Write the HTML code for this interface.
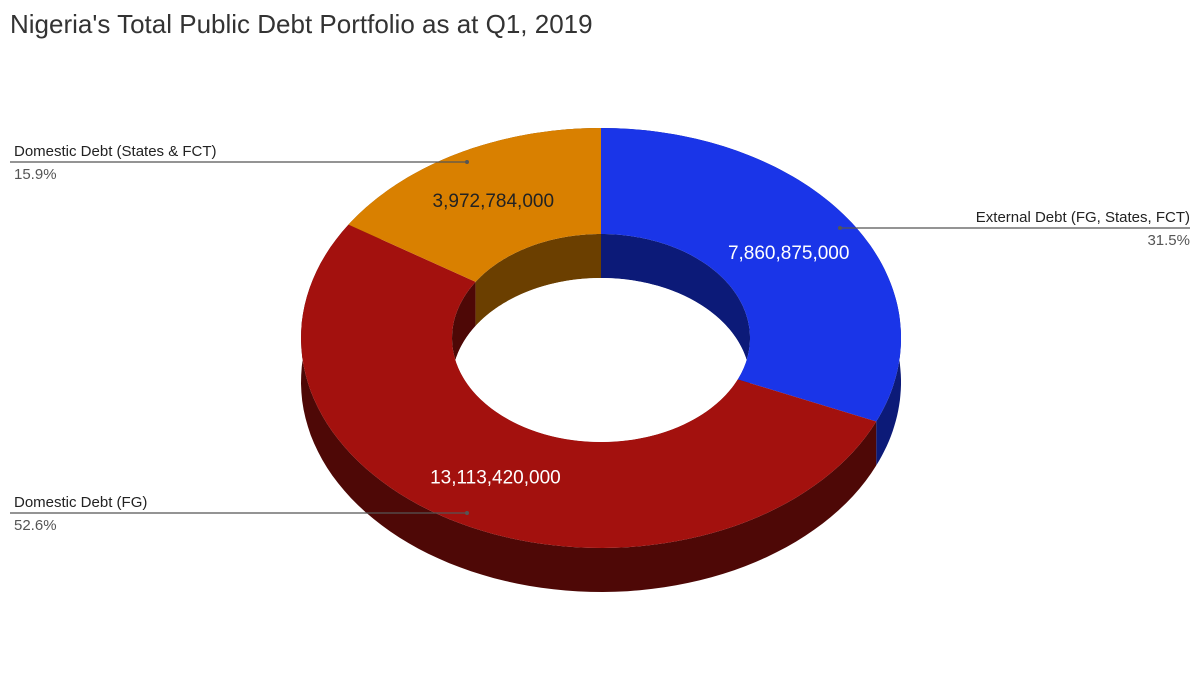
<!DOCTYPE html>
<html><head><meta charset="utf-8"><style>
body{margin:0;background:#fff;}
svg{display:block;font-family:"Liberation Sans",sans-serif;}
</style></head><body>
<svg width="1200" height="675" viewBox="0 0 1200 675">
<rect width="1200" height="675" fill="#fff"/>
<text x="10" y="33" font-size="26" fill="#333">Nigeria's Total Public Debt Portfolio as at Q1, 2019</text>
<g id="chart"></g>
</svg>
<script>
const categories = ["External Debt (FG, States, FCT)", "Domestic Debt (FG)", "Domestic Debt (States & FCT)"];
const values = [7860875000, 13113420000, 3972784000];
const valueLabels = ["7,860,875,000", "13,113,420,000", "3,972,784,000"];

const topColors = ["#1a35e8", "#a3110e", "#d98000"];
const sideColors = ["#0c1a78", "#4e0806", "#6b3f00"];
const cx = 601, cy = 338, rx = 300, ry = 210, irx = 149, iry = 104, depth = 44;
const NS = "http://www.w3.org/2000/svg";
const g = document.getElementById("chart");
const total = values.reduce((a, b) => a + b, 0);
function pt(t, a, b, dy) { return [cx + a * Math.sin(t), cy - b * Math.cos(t) + (dy || 0)]; }
function arc(t0, t1, a, b, dy) {
  const pts = []; const n = 80;
  for (let i = 0; i <= n; i++) { const t = t0 + (t1 - t0) * i / n; pts.push(pt(t, a, b, dy)); }
  return pts;
}
function poly(pts, fill, name) {
  const p = document.createElementNS(NS, "polygon");
  p.setAttribute("points", pts.map(q => q[0].toFixed(1) + "," + q[1].toFixed(1)).join(" "));
  p.setAttribute("fill", fill);
  
  
  g.appendChild(p);
}
const angles = []; let acc = 0;
values.forEach(v => { const t0 = acc / total * 2 * Math.PI; acc += v; angles.push([t0, acc / total * 2 * Math.PI]); });
// outer walls
angles.forEach((a, i) => {
  const top = arc(a[0], a[1], rx, ry, 0), bot = arc(a[0], a[1], rx, ry, depth).reverse();
  poly(top.concat(bot), sideColors[i], "outer-wall-" + i);
});
// inner walls
angles.forEach((a, i) => {
  const top = arc(a[0], a[1], irx, iry, 0), bot = arc(a[0], a[1], irx, iry, depth).reverse();
  poly(top.concat(bot), sideColors[i], "inner-wall-" + i);
});
// top faces
angles.forEach((a, i) => {
  const o = arc(a[0], a[1], rx, ry, 0), inn = arc(a[0], a[1], irx, iry, 0).reverse();
  poly(o.concat(inn), topColors[i], "slice-" + i);
});
// hole bottom (white)
const defs = document.createElementNS(NS, "defs");
const cp = document.createElementNS(NS, "clipPath"); cp.setAttribute("id", "holeclip");
const ce = document.createElementNS(NS, "ellipse");
ce.setAttribute("cx", cx); ce.setAttribute("cy", cy); ce.setAttribute("rx", irx); ce.setAttribute("ry", iry);
cp.appendChild(ce); defs.appendChild(cp); g.appendChild(defs);
const hole = document.createElementNS(NS, "ellipse");
hole.setAttribute("cx", cx); hole.setAttribute("cy", cy + depth); hole.setAttribute("rx", irx); hole.setAttribute("ry", iry);
hole.setAttribute("fill", "#fff"); hole.setAttribute("clip-path", "url(#holeclip)");


g.appendChild(hole);
// value labels
const labelColors = ["#fff", "#fff", "#222"];
angles.forEach((a, i) => {
  const m = (a[0] + a[1]) / 2; const r = 0.7;
  const p = pt(m, rx * r + irx * (1 - r) * 0, 0, 0);
  const rr = (rx + irx) / 2, rrv = (ry + iry) / 2;
  const q = [cx + rr * Math.sin(m), cy - rrv * Math.cos(m)];
  const t = document.createElementNS(NS, "text");
  t.setAttribute("x", q[0].toFixed(1)); t.setAttribute("y", (q[1] + 7).toFixed(1));
  t.setAttribute("text-anchor", "middle"); t.setAttribute("font-size", "19");
  t.setAttribute("fill", labelColors[i]);
  t.textContent = valueLabels[i];
  
  
  g.appendChild(t);
});
// leader labels
const leaders = [
  {x1: 840, y: 228, x2: 1190, anchor: "end", tx: 1190},
  {x1: 467, y: 513, x2: 10, anchor: "start", tx: 14},
  {x1: 467, y: 162, x2: 10, anchor: "start", tx: 14}
];
leaders.forEach((L, i) => {
  const ln = document.createElementNS(NS, "line");
  ln.setAttribute("x1", L.x1); ln.setAttribute("y1", L.y); ln.setAttribute("x2", L.x2); ln.setAttribute("y2", L.y);
  ln.setAttribute("stroke", "#555"); ln.setAttribute("stroke-width", "1.3");
  
  
  g.appendChild(ln);
  const dot = document.createElementNS(NS, "circle");
  dot.setAttribute("cx", L.x1); dot.setAttribute("cy", L.y); dot.setAttribute("r", "2"); dot.setAttribute("fill", "#555");
  
  
  g.appendChild(dot);
  const t1 = document.createElementNS(NS, "text");
  t1.setAttribute("x", L.tx); t1.setAttribute("y", L.y - 6); t1.setAttribute("text-anchor", L.anchor);
  t1.setAttribute("font-size", "15"); t1.setAttribute("fill", "#222");
  t1.textContent = categories[i];
  
  
  g.appendChild(t1);
  const t2 = document.createElementNS(NS, "text");
  t2.setAttribute("x", L.tx); t2.setAttribute("y", L.y + 17); t2.setAttribute("text-anchor", L.anchor);
  t2.setAttribute("font-size", "15"); t2.setAttribute("fill", "#555");
  t2.textContent = (values[i] / total * 100).toFixed(1) + "%";
  
  
  g.appendChild(t2);
});
</script>
</body></html>
